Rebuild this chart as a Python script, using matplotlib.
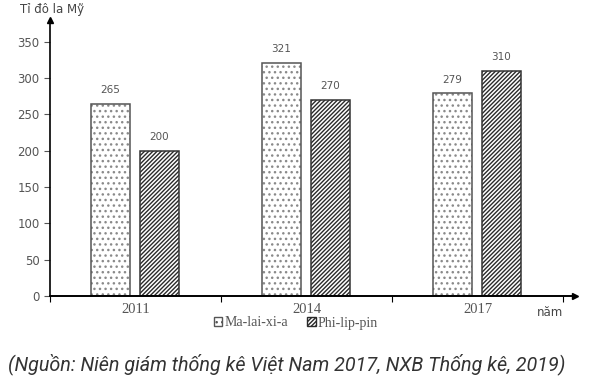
import matplotlib
matplotlib.use('Agg')
import matplotlib.pyplot as plt
from matplotlib.patches import Patch
import numpy as np

# ─── DATA ─────────────────────────────────────────────
years = ["2011", "2014", "2017"]
malaysia = [265, 321, 279]
philippines = [200, 270, 310]
y_ticks = [0, 50, 100, 150, 200, 250, 300, 350]

plt.rcParams['hatch.linewidth'] = 1.0

fig = plt.figure(figsize=(5.91, 3.88), dpi=100)
ax = fig.add_axes([50/591, 92/388, 525/591, 276/388])

x = np.arange(len(years)) + 0.5
w = 0.225
# hatch layer first (hatch takes the edge colour), then outline on top
ax.bar(x - 0.146, malaysia, w, color="white", edgecolor="#8a8a8a",
       hatch="...", linewidth=0)
ax.bar(x + 0.14, philippines, w, color="white", edgecolor="#2a2a2a",
       hatch="////////", linewidth=0)
b1 = ax.bar(x - 0.146, malaysia, w, fill=False, edgecolor="#555555", linewidth=1.1)
b2 = ax.bar(x + 0.14, philippines, w, fill=False, edgecolor="#333333", linewidth=1.1)

for bars, vals in [(b1, malaysia), (b2, philippines)]:
    for bar, v in zip(bars, vals):
        ax.text(bar.get_x() + bar.get_width()/2, v + 12, str(v),
                ha="center", va="bottom", fontsize=7.5, color="#555555")

ax.set_xlim(0, 3.07)
ax.set_ylim(0, 380)
ax.set_yticks(y_ticks)
ax.tick_params(axis='y', labelsize=8.5, colors="#555555", length=4, direction='out')
ax.set_xticks([0, 1, 2, 3])
ax.set_xticklabels([])
ax.tick_params(axis='x', length=4, direction='out', color="black")
for xi, yr in zip(x, years):
    ax.text(xi, -9, yr, ha="center", va="top", fontsize=10.5,
            family="Liberation Serif", color="#555555")

for s in ["top", "right"]:
    ax.spines[s].set_visible(False)
ax.spines["left"].set_color("black")
ax.spines["bottom"].set_color("black")
ax.spines["left"].set_linewidth(1.2)
ax.spines["bottom"].set_linewidth(1.4)
ax.plot(1, 0, ">k", transform=ax.transAxes, clip_on=False, markersize=5)
ax.plot(0, 1, "^k", transform=ax.transAxes, clip_on=False, markersize=5)

fig.text(20/591, 1 - 10/388, "Tỉ đô la Mỹ", fontsize=8.5, color="#444444", va="center")
fig.text(537/591, 1 - 312/388, "năm", fontsize=8.5, color="#444444", va="center")

handles = [Patch(facecolor="white", edgecolor="#555555", hatch="...", label="Ma-lai-xi-a"),
           Patch(facecolor="white", edgecolor="#2a2a2a", hatch="////////", label="Phi-lip-pin")]
fig.legend(handles=handles, loc="center", bbox_to_anchor=(296/591, 1 - 323/388),
           ncol=2, frameon=False, prop={"family": "Liberation Serif", "size": 10},
           handlelength=0.6, handleheight=0.6, handletextpad=0.15, columnspacing=1.4,
           labelcolor="#555555")

fig.text(8/591, 1 - 364/388,
         "(Nguồn: Niên giám thống kê Việt Nam 2017, NXB Thống kê, 2019)",
         fontsize=14.2, style="italic", family="Roboto", color="#333333", va="center")

plt.savefig("out.png", dpi=100)
plt.close()
